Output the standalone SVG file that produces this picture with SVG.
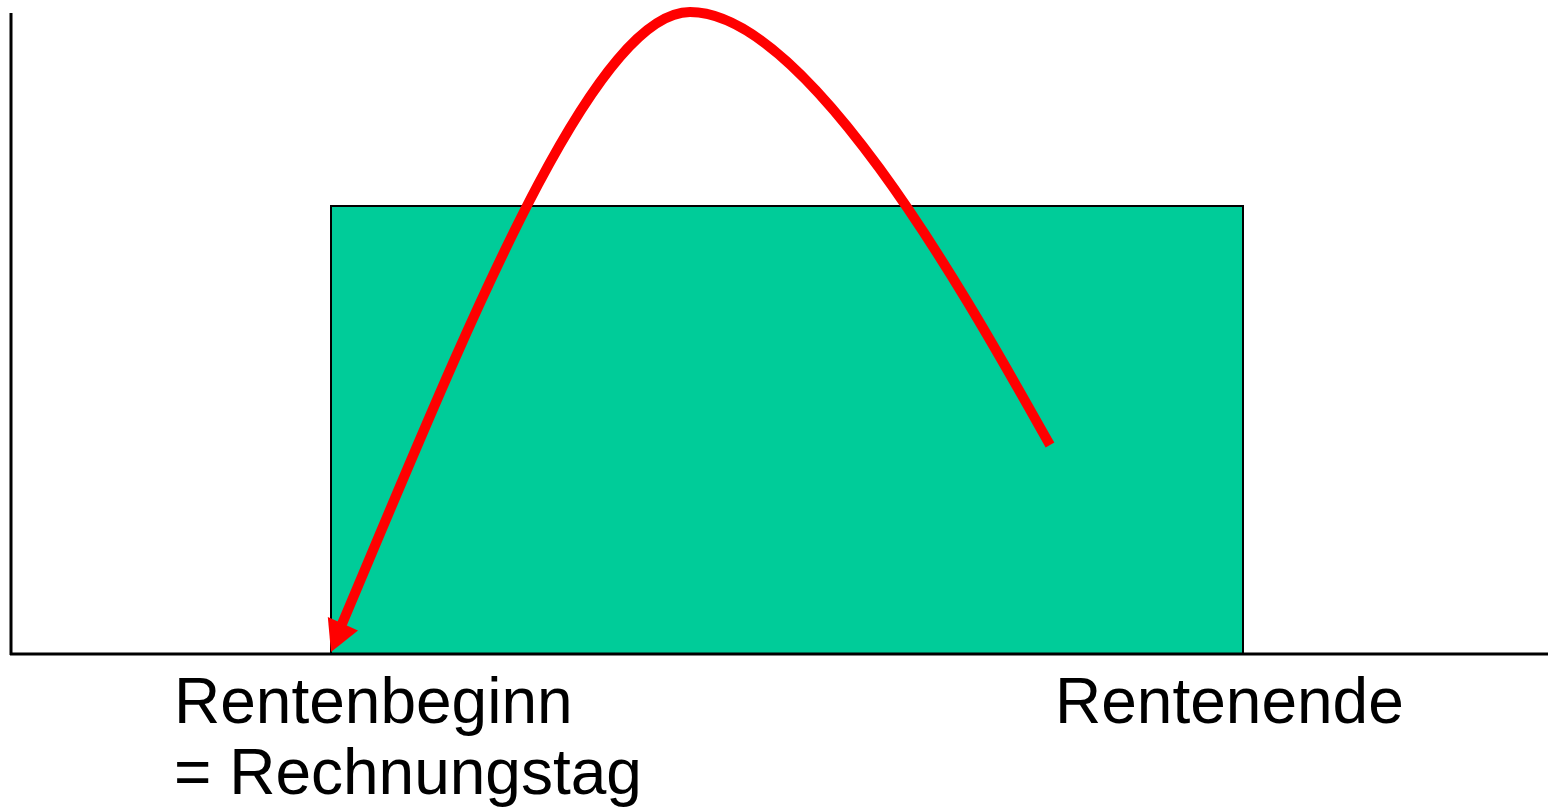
<svg xmlns="http://www.w3.org/2000/svg" width="1548" height="809" viewBox="0 0 1548 809">
<style>
.axis{stroke:#000;stroke-width:3;fill:none}
.lbl{font-family:"Liberation Sans",Arial,sans-serif;font-size:64px;fill:#000}
</style>
<rect width="1548" height="809" fill="#fff"/>
<g id="area">
<rect x="331" y="206" width="912" height="448" fill="#00CC99" stroke="#000" stroke-width="2"/>
</g>
<g id="axes">
<line class="axis" x1="11" y1="13" x2="11" y2="655"/>
<line class="axis" x1="10" y1="654" x2="1548" y2="654"/>
</g>
<g id="connectors">
<path d="M1050,445 C990,340 815,12 690,12 C592,12 464,335 342,624" fill="none" stroke="#FF0000" stroke-width="10"/>
<polygon points="331,652 327.8,617 358,630.5" fill="#FF0000"/>
</g>
<g id="labels">
<text class="lbl" x="174" y="723">Rentenbeginn</text>
<text class="lbl" x="174" y="794">= Rechnungstag</text>
<text class="lbl" x="1055" y="723">Rentenende</text>
</g>
</svg>
